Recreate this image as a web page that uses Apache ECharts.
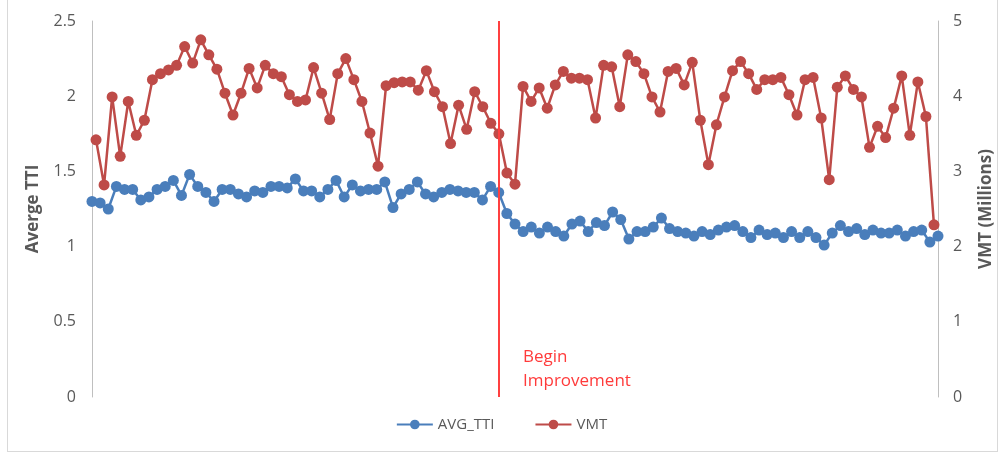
<!DOCTYPE html>
<html>
<head>
<meta charset="utf-8">
<script src="https://cdn.jsdelivr.net/npm/echarts@6/dist/echarts.min.js"></script>
<style>
  html, body { margin: 0; padding: 0; background: #fff; }
  #frame { position: absolute; left: 7px; top: -1px; width: 989px; height: 451px; border: 1px solid #d9d9d9; }
  #chart { position: absolute; left: 0; top: 0; width: 1003px; height: 457px; }
</style>
</head>
<body>
<div id="frame"></div>
<div id="chart"></div>
<script>
// average travel time index per period
const avgTti = [
  1.30, 1.29, 1.25, 1.40, 1.38, 1.38, 1.31, 1.33, 1.38, 1.40,
  1.44, 1.34, 1.48, 1.40, 1.36, 1.30, 1.38, 1.38, 1.35, 1.33,
  1.37, 1.36, 1.40, 1.40, 1.39, 1.45, 1.37, 1.37, 1.33, 1.38,
  1.44, 1.33, 1.41, 1.37, 1.38, 1.38, 1.43, 1.26, 1.35, 1.38,
  1.43, 1.35, 1.33, 1.36, 1.38, 1.37, 1.36, 1.36, 1.31, 1.40,
  1.36, 1.22, 1.15, 1.10, 1.13, 1.09, 1.13, 1.10, 1.07, 1.15,
  1.17, 1.10, 1.16, 1.14, 1.23, 1.18, 1.05, 1.10, 1.10, 1.13,
  1.19, 1.12, 1.10, 1.09, 1.07, 1.10, 1.08, 1.11, 1.13, 1.14,
  1.10, 1.06, 1.11, 1.08, 1.09, 1.06, 1.10, 1.06, 1.10, 1.06,
  1.01, 1.09, 1.14, 1.10, 1.12, 1.08, 1.11, 1.09, 1.09, 1.11,
  1.07, 1.10, 1.11, 1.03, 1.07
]
// vehicle miles travelled, millions
const vmt = [
  3.42, 2.82, 3.99, 3.20, 3.93, 3.48, 3.68, 4.22, 4.30, 4.35,
  4.41, 4.66, 4.44, 4.75, 4.55, 4.36, 4.04, 3.75, 4.04, 4.37,
  4.11, 4.41, 4.30, 4.26, 4.02, 3.93, 3.95, 4.38, 4.04, 3.69,
  4.30, 4.50, 4.22, 3.93, 3.51, 3.07, 4.14, 4.18, 4.19, 4.19,
  4.08, 4.34, 4.06, 3.86, 3.37, 3.88, 3.56, 4.06, 3.86, 3.64,
  3.50, 2.98, 2.83, 4.13, 3.93, 4.11, 3.84, 4.15, 4.33, 4.24,
  4.24, 4.22, 3.71, 4.41, 4.39, 3.86, 4.55, 4.46, 4.30, 3.99,
  3.79, 4.33, 4.37, 4.15, 4.45, 3.68, 3.09, 3.62, 3.99, 4.34,
  4.46, 4.30, 4.09, 4.22, 4.22, 4.25, 4.02, 3.75, 4.22, 4.25,
  3.71, 2.89, 4.12, 4.27, 4.09, 3.99, 3.32, 3.60, 3.45, 3.84,
  4.27, 3.48, 4.19, 3.73, 2.29
]
const periods = avgTti.map((v, i) => String(i + 1))
const improvementStart = 50

const font = 'Open Sans'
const grey = '#595959'

const chart = echarts.init(document.getElementById('chart'))
chart.setOption({
  animation: false,
  textStyle: { fontFamily: font },
  grid: { left: 92, right: 63, top: 21, bottom: 60 },
  legend: {
    bottom: 20,
    left: 'center',
    itemWidth: 36,
    itemHeight: 12,
    itemGap: 40,
    textStyle: { color: grey, fontSize: 15, fontFamily: font },
    data: ['AVG_TTI', 'VMT']
  },
  xAxis: [
    { type: 'category', data: periods, boundaryGap: false, show: false },
    { type: 'category', data: periods, boundaryGap: true, show: false }
  ],
  yAxis: [
    {
      type: 'value', min: 0, max: 2.5, interval: 0.5,
      name: 'Averge TTI', nameLocation: 'middle', nameGap: 50,
      nameTextStyle: { color: grey, fontSize: 17, fontWeight: 'bold', fontFamily: font },
      axisLine: { show: true, lineStyle: { color: '#bfbfbf', width: 1 } },
      axisTick: { show: false },
      splitLine: { show: false },
      axisLabel: { color: grey, fontSize: 16, margin: 16 }
    },
    {
      type: 'value', min: 0, max: 5, interval: 1,
      name: 'VMT (Millions)', nameLocation: 'middle', nameGap: 40,
      nameTextStyle: { color: grey, fontSize: 17, fontWeight: 'bold', fontFamily: font },
      axisLine: { show: true, lineStyle: { color: '#bfbfbf', width: 1 } },
      axisTick: { show: false },
      splitLine: { show: false },
      axisLabel: { color: grey, fontSize: 16, margin: 15 }
    }
  ],
  graphic: [
    {
      type: 'text', left: 523, top: 345,
      style: { text: 'Begin\nImprovement', fill: '#ff3b3b', fontSize: 17, lineHeight: 24, fontFamily: font }
    }
  ],
  series: [
    {
      name: 'AVG_TTI', type: 'line', xAxisIndex: 0, yAxisIndex: 0,
      data: avgTti,
      symbol: 'circle', symbolSize: 11, showAllSymbol: true,
      lineStyle: { color: '#4a7ebb', width: 2.5 },
      itemStyle: { color: '#4a7ebb' },
      markLine: {
        silent: true,
        symbol: 'none',
        label: { show: false },
        lineStyle: { color: '#ff4040', width: 2, type: 'solid' },
        data: [{ xAxis: improvementStart }]
      },
      z: 3
    },
    {
      name: 'VMT', type: 'line', xAxisIndex: 1, yAxisIndex: 1,
      data: vmt,
      symbol: 'circle', symbolSize: 11, showAllSymbol: true,
      lineStyle: { color: '#be4b48', width: 2.5 },
      itemStyle: { color: '#be4b48' },
      z: 2
    }
  ]
})
</script>
</body>
</html>
